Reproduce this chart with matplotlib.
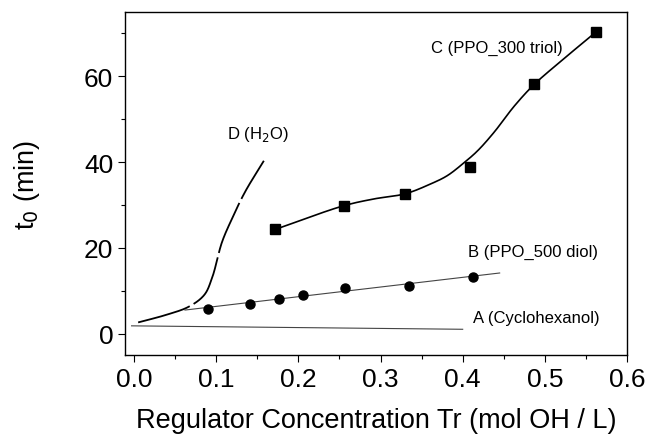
import numpy as np
import matplotlib
matplotlib.use('Agg')
from matplotlib import pyplot as plt

plt.rcParams['font.family'] = ['Liberation Sans', 'DejaVu Sans']

# C (PPO_300 triol) - squares
c_x = [0.172, 0.255, 0.330, 0.409, 0.487, 0.562]
c_y = [24.3, 29.8, 32.6, 38.8, 58.1, 70.3]
# smooth guide line of C, traced
cl_x = [0.172, 0.255, 0.292, 0.330, 0.361, 0.381, 0.402, 0.418,
        0.438, 0.463, 0.487, 0.520, 0.562]
cl_y = [24.3, 29.8, 31.4, 32.6, 34.9, 36.8, 39.9, 42.6,
        46.9, 53.1, 58.1, 63.6, 70.3]
# B (PPO_500 diol) - circles
b_x = [0.090, 0.141, 0.177, 0.206, 0.257, 0.335, 0.412]
b_y = [5.8, 7.0, 8.1, 9.1, 10.7, 11.2, 13.2]
bl_x = [0.062, 0.445]   # extent of B straight line
# A (Cyclohexanol) - line only
a_x = [-0.003, 0.40]
a_y = [1.8, 1.0]
# D (H2O) - curve only, traced
d_x = [0.005, 0.038, 0.066, 0.085, 0.095, 0.107, 0.119, 0.135, 0.158]
d_y = [2.6, 4.3, 6.2, 8.9, 13.0, 21.3, 26.7, 33.0, 40.3]


def smooth(xs, ys, n=25, sx=0.6, sy=80.0):
    """
    centripetal catmull-rom through traced points (in scaled units)
    """
    p = np.column_stack([np.array(xs)/sx, np.array(ys)/sy])
    p = np.vstack([2*p[0]-p[1], p, 2*p[-1]-p[-2]])
    out = []
    for i in range(1, len(p)-2):
        p0, p1, p2, p3 = p[i-1], p[i], p[i+1], p[i+2]
        t0 = 0.0
        t1 = t0 + np.linalg.norm(p1-p0)**0.5
        t2 = t1 + np.linalg.norm(p2-p1)**0.5
        t3 = t2 + np.linalg.norm(p3-p2)**0.5
        t = np.linspace(t1, t2, n, endpoint=False)[:, None]
        a1 = (t1-t)/(t1-t0)*p0 + (t-t0)/(t1-t0)*p1
        a2 = (t2-t)/(t2-t1)*p1 + (t-t1)/(t2-t1)*p2
        a3 = (t3-t)/(t3-t2)*p2 + (t-t2)/(t3-t2)*p3
        b1 = (t2-t)/(t2-t0)*a1 + (t-t0)/(t2-t0)*a2
        b2 = (t3-t)/(t3-t1)*a2 + (t-t1)/(t3-t1)*a3
        out.append((t2-t)/(t2-t1)*b1 + (t-t1)/(t2-t1)*b2)
    out.append(p[-2][None, :])
    out = np.vstack(out)
    return out[:, 0]*sx, out[:, 1]*sy


fig = plt.figure(figsize=(6.49, 4.35), dpi=100)
ax = fig.add_axes([125/649, 1-356/435, (627-125)/649, (356-13)/435])

xs, ys = smooth(cl_x, cl_y)
ax.plot(xs, ys, color='black', lw=1.2)
ax.plot(c_x, c_y, 's', color='black', ms=6.5)

pb = np.polyfit(b_x, b_y, 1)
xb = np.array(bl_x)
ax.plot(xb, np.polyval(pb, xb), color='#444444', lw=0.8)
ax.plot(b_x, b_y, 'o', color='black', ms=6.5)

ax.plot(a_x, a_y, color='#444444', lw=0.8)
xs, ys = smooth(d_x, d_y)
ax.plot(xs, ys, color='black', lw=1.3, dashes=(30, 2.5))

fs = 12
ax.text(0.113, 45.6, 'D (H$_2$O)', fontsize=fs)
ax.text(0.361, 65.6, 'C (PPO_300 triol)', fontsize=fs)
ax.text(0.406, 18.1, 'B (PPO_500 diol)', fontsize=fs)
ax.text(0.413, 2.6, 'A (Cyclohexanol)', fontsize=fs)

ax.set_xlim(-0.011, 0.6)
ax.set_ylim(-5, 75)
ax.set_xticks([0.0, 0.1, 0.2, 0.3, 0.4, 0.5, 0.6])
ax.set_xticks(np.arange(0.05, 0.6, 0.1), minor=True)
ax.set_yticks([0, 20, 40, 60])
ax.set_yticks([10, 30, 50, 70], minor=True)
ax.set_xticklabels(['0.0', '0.1', '0.2', '0.3', '0.4', '0.5', '0.6'])
ax.tick_params(labelsize=19, length=5, width=0.8, direction='out')
ax.tick_params(which='minor', length=3, width=0.8, direction='out')
for s in ax.spines.values():
    s.set_linewidth(1.0)

ax.set_xlabel('Regulator Concentration Tr (mol OH / L)', fontsize=19.5, labelpad=12)
ax.set_ylabel('t$_0$ (min)', fontsize=19.5, labelpad=30)

fig.savefig('out.png', dpi=100)
